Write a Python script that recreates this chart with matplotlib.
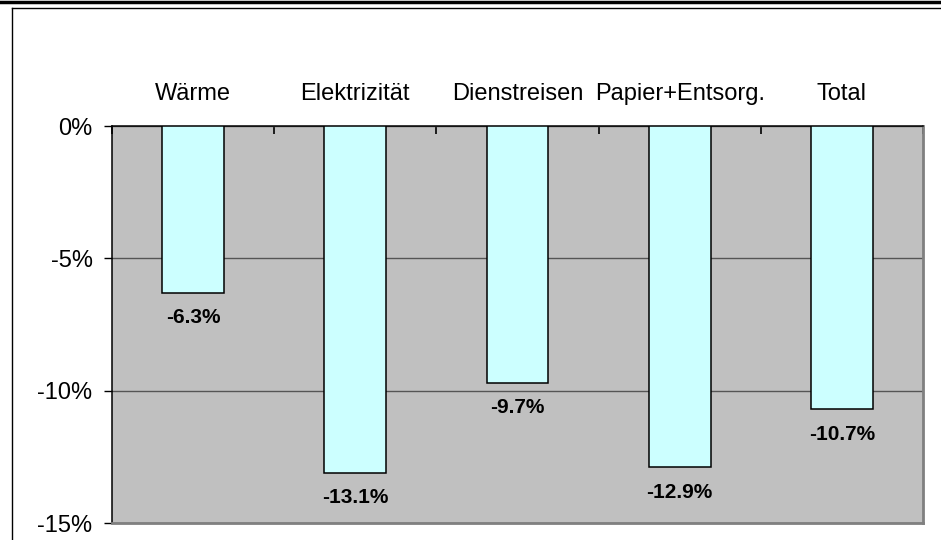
import matplotlib.pyplot as plt
from matplotlib.lines import Line2D
from matplotlib.ticker import FuncFormatter

categories = ["Wärme", "Elektrizität", "Dienstreisen", "Papier+Entsorg.", "Total"]
values = [-6.3, -13.1, -9.7, -12.9, -10.7]
yticks = [0, -5, -10, -15]

plt.rcParams['font.family'] = ['Liberation Sans', 'DejaVu Sans']

fig = plt.figure(figsize=(9.41, 5.40), dpi=100)
W, H = 941, 540

# frame lines of the original sheet
fig.add_artist(Line2D([0, 1], [1 - 1.5 / H, 1 - 1.5 / H], color='black', lw=2.5, transform=fig.transFigure))
fig.add_artist(Line2D([12 / W, 1], [1 - 8 / H, 1 - 8 / H], color='black', lw=1.0, transform=fig.transFigure))
fig.add_artist(Line2D([12 / W, 12 / W], [0, 1 - 8 / H], color='black', lw=1.0, transform=fig.transFigure))

ax = fig.add_axes([112 / W, 1 - 523 / H, (923 - 112) / W, (523 - 126) / H])
ax.set_facecolor('#c0c0c0')

x = list(range(len(categories)))
ax.bar(x, values, width=0.38, color='#ccffff', edgecolor='black', linewidth=1.1, zorder=3)

ax.set_xlim(-0.5, len(categories) - 0.5)
ax.set_ylim(-15, 0)

ax.set_yticks(yticks)
ax.yaxis.set_major_formatter(FuncFormatter(lambda v, p: f"{v:.0f}%"))
ax.tick_params(axis='y', direction='out', length=6, width=1, labelsize=17, pad=8)
ax.grid(axis='y', color='#555555', linewidth=1, zorder=1)

# category boundary ticks on top axis
ax.set_xticks([])
ax.set_xticks([i - 0.5 for i in range(len(categories) + 1)], minor=True)
ax.tick_params(axis='x', which='minor', direction='in', length=6, width=1.2,
               top=True, bottom=False, labelbottom=False)

for s in ['left', 'top']:
    ax.spines[s].set_color('black')
    ax.spines[s].set_linewidth(1.1)
for s in ['right', 'bottom']:
    ax.spines[s].set_color('#808080')
    ax.spines[s].set_linewidth(2)

for i, c in enumerate(categories):
    ax.annotate(c, (i, 0), xytext=(0, 19), textcoords='offset points',
                ha='center', va='baseline', fontsize=17, annotation_clip=False)

for i, v in enumerate(values):
    ax.annotate(f"{v:.1f}%", (i, v), xytext=(0, -18), textcoords='offset points',
                ha='center', va='center', fontsize=15, fontweight='bold', zorder=4)

fig.savefig('out.png', dpi=100)
